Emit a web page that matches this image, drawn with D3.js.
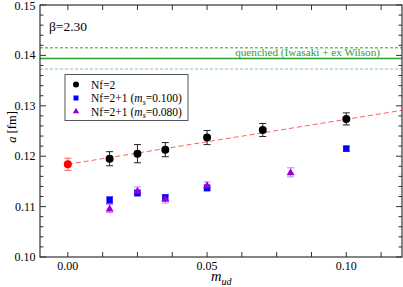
<!DOCTYPE html>
<html><head><meta charset="utf-8">
<script src="https://cdn.jsdelivr.net/npm/d3@7"></script>
<style>body{margin:0;background:#fff}svg{display:block}</style>
</head><body>
<svg id="c" width="403" height="287"></svg>
<script>
// data
const nf2X = [0.015, 0.025, 0.035, 0.05, 0.07, 0.10];
const nf2Y = [0.1195, 0.1205, 0.1213, 0.1237, 0.1252, 0.1274];
const nf2E = [0.0014, 0.0018, 0.0014, 0.0014, 0.0013, 0.0012];
const chiralX = [0.0];
const chiralY = [0.1184];
const chiralE = [0.0012];
const ms100X = [0.015, 0.025, 0.035, 0.05, 0.10];
const ms100Y = [0.1113, 0.1127, 0.1118, 0.1137, 0.1215];
const ms100E = [0.0007, 0.0006, 0.0006, 0.0006, 0.0005];
const ms080X = [0.015, 0.025, 0.035, 0.05, 0.08];
const ms080Y = [0.1096, 0.1131, 0.1115, 0.1142, 0.1168];
const ms080E = [0.0008, 0.0008, 0.0008, 0.0007, 0.0009];
const fitX = [0.0, 0.12];
const fitY = [0.1184, 0.1291];
const quenched = [0.1394, 0.1415, 0.1373]; // central, upper, lower
const xTickLabels = ["0.00", "0.05", "0.10"];
const yTickLabels = ["0.10", "0.11", "0.12", "0.13", "0.14", "0.15"];

const svg = d3.select("#c");
const L = 40, R = 402, T = 5, B = 257;
const x = d3.scaleLinear().domain([-0.01, 0.12]).range([L, R]);
const y = d3.scaleLinear().domain([0.10, 0.15]).range([B, T]);

const g = svg.append("g");
// quenched band lines
g.append("line").attr("x1", L).attr("x2", R).attr("y1", y(quenched[0])).attr("y2", y(quenched[0]))
  .attr("stroke", "#2ca02c").attr("stroke-width", 1.5);
g.append("line").attr("x1", L).attr("x2", R).attr("y1", y(quenched[1])).attr("y2", y(quenched[1]))
  .attr("stroke", "#2ca02c").attr("stroke-width", 1).attr("stroke-dasharray", "3,2");
g.append("line").attr("x1", L).attr("x2", R).attr("y1", y(quenched[2])).attr("y2", y(quenched[2]))
  .attr("stroke", "#7fcc7f").attr("stroke-width", 1).attr("stroke-dasharray", "3,2");
g.append("text").attr("x", 380).attr("y", y(quenched[0]) - 2.5).attr("text-anchor", "end")
  .attr("font-size", 11.2).attr("fill", "#2ca02c").text("quenched (Iwasaki + ex Wilson)");

// fit line
g.append("line").attr("x1", x(fitX[0])).attr("x2", x(fitX[1])).attr("y1", y(fitY[0])).attr("y2", y(fitY[1]))
  .attr("stroke", "#ff6060").attr("stroke-width", 1).attr("stroke-dasharray", "5,3");

function errbars(xs, ys, es, color) {
  xs.forEach((xv, i) => {
    const cx = x(xv), y1 = y(ys[i] + es[i]), y2 = y(ys[i] - es[i]);
    g.append("line").attr("x1", cx).attr("x2", cx).attr("y1", y1).attr("y2", y2).attr("stroke", color).attr("stroke-width", 1);
    [y1, y2].forEach(yy => g.append("line").attr("x1", cx - 3.5).attr("x2", cx + 3.5).attr("y1", yy).attr("y2", yy).attr("stroke", color).attr("stroke-width", 1));
  });
}
errbars(ms100X, ms100Y, ms100E, "#6a6aff");
errbars(ms080X, ms080Y, ms080E, "#c080ff");
errbars(nf2X, nf2Y, nf2E, "#222");
errbars(chiralX, chiralY, chiralE, "#ff6060");

ms100X.forEach((xv, i) => g.append("rect").attr("x", x(xv) - 3.2).attr("y", y(ms100Y[i]) - 3.2).attr("width", 6.4).attr("height", 6.4).attr("fill", "#0000ff"));
const tri = d3.symbol().type(d3.symbolTriangle).size(28);
ms080X.forEach((xv, i) => g.append("path").attr("d", tri).attr("transform", `translate(${x(xv)},${y(ms080Y[i]) + 0.5})`).attr("fill", "#9900cc"));
nf2X.forEach((xv, i) => g.append("circle").attr("cx", x(xv)).attr("cy", y(nf2Y[i])).attr("r", 4).attr("fill", "#000"));
chiralX.forEach((xv, i) => g.append("circle").attr("cx", x(xv)).attr("cy", y(chiralY[i])).attr("r", 4).attr("fill", "#ff0000"));

// frame
svg.append("rect").attr("x", L).attr("y", T).attr("width", R - L).attr("height", B - T)
  .attr("fill", "none").attr("stroke", "#333").attr("stroke-width", 1.2);

// ticks (inward, all sides)
const xMinor = d3.range(0, 0.1201, 0.0125);
xMinor.forEach(v => {
  const px = x(v);
  svg.append("line").attr("x1", px).attr("x2", px).attr("y1", B).attr("y2", B - 5).attr("stroke", "#333");
  svg.append("line").attr("x1", px).attr("x2", px).attr("y1", T).attr("y2", T + 5).attr("stroke", "#333");
});
const yMinor = d3.range(0.10, 0.1501, 0.002);
yMinor.forEach((v, i) => {
  const major = (i % 5 === 0);
  const len = major ? 6 : 3.5;
  const py = y(v);
  svg.append("line").attr("x1", L).attr("x2", L + len).attr("y1", py).attr("y2", py).attr("stroke", "#333");
  svg.append("line").attr("x1", R).attr("x2", R - len).attr("y1", py).attr("y2", py).attr("stroke", "#333");
});
xTickLabels.forEach(t => svg.append("text").attr("x", x(+t)).attr("y", 269.5).attr("text-anchor", "middle").attr("font-size", 12).text(t));
yTickLabels.forEach(t => svg.append("text").attr("x", 35.5).attr("y", Math.max(y(+t) + 4, 10)).attr("text-anchor", "end").attr("font-size", 12).text(t));

// axis titles
const xt = svg.append("text").attr("x", 211).attr("y", 281).attr("font-size", 14.5);
xt.append("tspan").attr("font-style", "italic").text("m");
xt.append("tspan").attr("font-style", "italic").attr("font-size", 10).attr("dy", 4).text("ud");
const yt = svg.append("text").attr("transform", "translate(15.5,127) rotate(-90)").attr("text-anchor", "middle").attr("font-size", 12.5);
yt.append("tspan").attr("font-style", "italic").text("a");
yt.append("tspan").text(" [fm]");

// beta label
svg.append("text").attr("x", 49).attr("y", 31).attr("font-size", 13.5).text("β=2.30");

// legend
svg.append("rect").attr("x", 65).attr("y", 74.5).attr("width", 123).attr("height", 46).attr("fill", "#fff").attr("stroke", "#555").attr("stroke-width", 1);
const rows = [84.5, 98, 111.5];
svg.append("circle").attr("cx", 76).attr("cy", rows[0]).attr("r", 3).attr("fill", "#000");
svg.append("rect").attr("x", 73.5).attr("y", rows[1] - 2.5).attr("width", 5).attr("height", 5).attr("fill", "#0000ff");
svg.append("path").attr("d", d3.symbol().type(d3.symbolTriangle).size(18)).attr("transform", `translate(76,${rows[2]})`).attr("fill", "#9900cc");
svg.append("text").attr("x", 91).attr("y", rows[0] + 4).attr("font-size", 11.5).text("Nf=2");
[["0.100", rows[1]], ["0.080", rows[2]]].forEach(([v, ry]) => {
  const t = svg.append("text").attr("x", 91).attr("y", ry + 4).attr("font-size", 11.5);
  t.append("tspan").text("Nf=2+1 (");
  t.append("tspan").attr("font-style", "italic").text("m");
  t.append("tspan").attr("font-style", "italic").attr("font-size", 8).attr("dy", 2.5).text("s");
  t.append("tspan").attr("dy", -2.5).text("=" + v + ")");
});
svg.selectAll("text").style("font-family", '"Liberation Serif"');
</script>
</body></html>
